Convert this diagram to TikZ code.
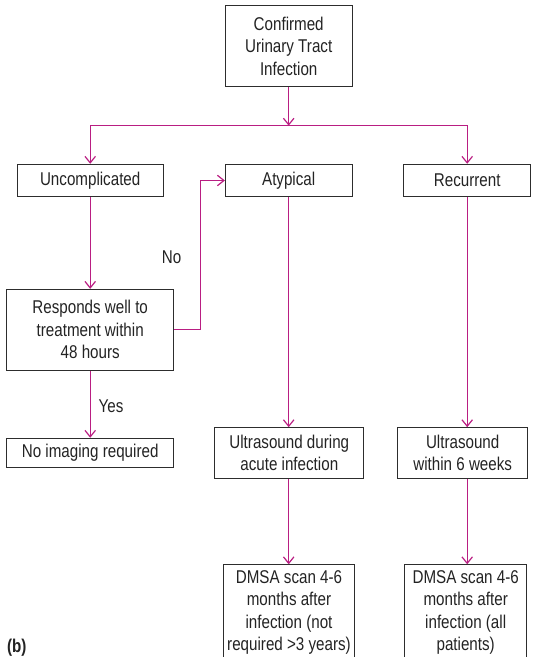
\documentclass[tikz,border=0pt]{standalone}
\usepackage{fontspec}
\newfontfamily\diagfont{Liberation Sans}[FakeStretch=0.82]
\usetikzlibrary{arrows.meta}
\definecolor{flow}{RGB}{185,30,130}
\definecolor{boxline}{RGB}{45,45,45}
\definecolor{txt}{RGB}{35,35,35}
\begin{document}
\begin{tikzpicture}[x=1pt,y=-1pt,
  box/.style={draw=boxline, line width=1pt, text=txt, align=center, inner sep=0pt,
    font=\diagfont\fontsize{18.5}{22.5}\selectfont},
  flowline/.style={draw=flow, line width=1.2pt},
  flowarrow/.style={flowline, -{Straight Barb[length=6.5pt,width=10.5pt]}},
  lbl/.style={text=txt, inner sep=0pt, font=\diagfont\fontsize{18.5}{22.5}\selectfont}]
\useasboundingbox (0,0) rectangle (535,657);
\clip (0,0) rectangle (535,657);

\node[box, minimum width=127pt, minimum height=81pt] (top) at (288.7,46.2) {Confirmed\\Urinary Tract\\Infection};
\node[box, minimum width=145.7pt, minimum height=32.4pt] (unc) at (90.2,180.5) {Uncomplicated};
\node[box, minimum width=126.7pt, minimum height=32.4pt] (aty) at (288.7,180.5) {Atypical};
\node[box, minimum width=127pt, minimum height=32.4pt] (rec) at (467.2,180.5) {Recurrent};
\node[box, minimum width=167pt, minimum height=80.7pt] (resp) at (90.2,329.7) {Responds well to\\treatment within\\48 hours};
\node[box, minimum width=167pt, minimum height=29.4pt] (noimg) at (90.2,453) {No imaging required};
\node[box, minimum width=149.3pt, minimum height=50.6pt] (usd) at (289.3,453) {Ultrasound during\\acute infection};
\node[box, minimum width=130pt, minimum height=50.6pt] (usw) at (462.7,453) {Ultrasound\\within 6 weeks};
\node[box, anchor=north, inner ysep=5.5pt] (dmsa1) at (289,564.3)
  {\parbox[t][110pt][t]{131.4pt}{\centering DMSA scan 4-6\\months after\\infection (not\\required >3 years)}};
\node[box, anchor=north, inner ysep=5.5pt] (dmsa2) at (465.7,564.3)
  {\parbox[t][110pt][t]{122pt}{\centering DMSA scan 4-6\\months after\\infection (all\\patients)}};

\node[lbl] (no) at (171.6,256.8) {No};
\node[lbl] (yes) at (111,406.7) {Yes};
\node[lbl, font=\diagfont\bfseries\fontsize{18.5}{22.5}\selectfont] (b) at (16.7,648) {(b)};

\coordinate (j) at (288.7,125.7);
\draw[flowarrow] (top.south) -- (j);
\draw[flowarrow] (j) -| (unc.north);
\draw[flowarrow] (j) -| (rec.north);
\draw[flowarrow] (unc.south) -- (resp.north);
\draw[flowarrow] (resp.south) -- (noimg.north);
\draw[flowarrow] (resp.east) -- ++(26.3,0) |- (aty.west);
\draw[flowarrow] (aty.south) -- (aty.south |- usd.north);
\draw[flowarrow] (rec.south) -- (rec.south |- usw.north);
\draw[flowarrow] (aty.south |- usd.south) -- (aty.south |- dmsa1.north);
\draw[flowarrow] (rec.south |- usw.south) -- (rec.south |- dmsa2.north);
\end{tikzpicture}
\end{document}
